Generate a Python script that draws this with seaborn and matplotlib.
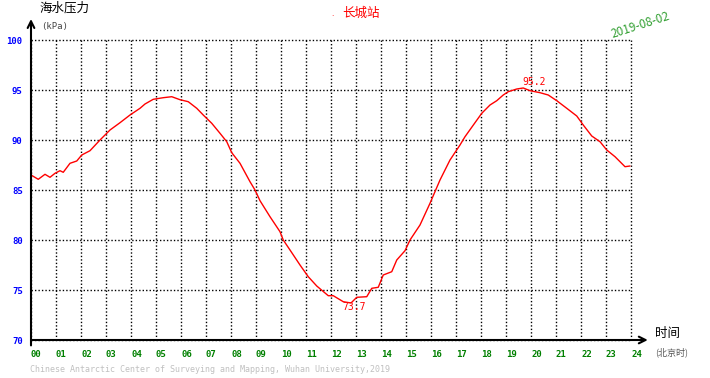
import numpy as np
import pandas as pd
import matplotlib
matplotlib.use('Agg')
import matplotlib.pyplot as plt
import seaborn as sns

# hours (Beijing time) and sea water pressure (kPa)
hours = [0, 0.29, 0.56, 0.76, 0.96, 1.16, 1.29, 1.56, 1.83, 2.03, 2.36, 2.76,
         3.16, 3.56, 3.96, 4.36, 4.56, 4.89, 5.29, 5.63, 5.96, 6.29, 6.63, 6.89,
         7.23, 7.56, 7.83, 8.03, 8.36, 8.76, 8.96, 9.16, 9.56, 9.96, 10.09,
         10.36, 10.76, 11.09, 11.43, 11.89, 12.09, 12.49, 12.8, 13.03, 13.43,
         13.63, 13.89, 14.09, 14.43, 14.63, 14.96, 15.16, 15.56, 15.96, 16.36,
         16.76, 17.16, 17.36, 17.76, 18.03, 18.36, 18.63, 18.89, 19.09, 19.43,
         19.69, 19.96, 20.36, 20.69, 21.03, 21.43, 21.83, 22.09, 22.43, 22.76,
         23.03, 23.36, 23.76, 23.96]
pressure = [86.5, 86.07, 86.57, 86.27, 86.67, 86.93, 86.77, 87.67, 87.9, 88.5,
            88.93, 90.0, 91.0, 91.73, 92.5, 93.17, 93.6, 94.07, 94.23, 94.33,
            94.03, 93.83, 93.17, 92.5, 91.67, 90.67, 89.83, 88.73, 87.67, 85.83,
            85.0, 83.93, 82.33, 80.83, 80.0, 79.0, 77.5, 76.33, 75.4, 74.43,
            74.43, 73.83, 73.7, 74.27, 74.33, 75.17, 75.27, 76.5, 76.83, 78.0,
            78.93, 80.0, 81.5, 83.67, 86.0, 88.0, 89.5, 90.33, 91.73, 92.67,
            93.5, 93.93, 94.5, 94.83, 95.1, 95.2, 94.93, 94.73, 94.5, 93.93,
            93.17, 92.4, 91.5, 90.4, 89.83, 89.0, 88.33, 87.33, 87.4]

x_ticks = list(range(0, 25))
x_labels = ['%02d' % h for h in x_ticks]
y_ticks = [70, 75, 80, 85, 90, 95, 100]

max_label = '95.2'
min_label = '73.7'
station = '长城站'
date_str = '2019-08-02'
footer = 'Chinese Antarctic Center of Surveying and Mapping, Wuhan University,2019'

df = pd.DataFrame({'hour': hours, 'kpa': pressure})

sns.set_style('white')
plt.rcParams['font.family'] = ['Noto Sans CJK SC', 'DejaVu Sans']

W, H = 710, 378
fig = plt.figure(figsize=(W / 100, H / 100), dpi=100)
ax = fig.add_axes([31 / W, (H - 340) / H, 600 / W, 300 / H])

sns.lineplot(data=df, x='hour', y='kpa', color='red', lw=1, ax=ax)

ax.set_xlim(0, 24)
ax.set_ylim(70, 100)
ax.set_xticks(x_ticks)
ax.set_xticklabels(x_labels, ha='left', color='#008000',
                   family='DejaVu Sans Mono', fontsize=6.5, fontweight='bold')
ax.set_yticks(y_ticks)
ax.set_yticklabels([str(v) for v in y_ticks], color='#0000ff',
                   family='DejaVu Sans Mono', fontsize=6.5, fontweight='bold')
ax.tick_params(axis='x', length=0, pad=7)
ax.tick_params(axis='y', length=0, pad=6)
ax.set_xlabel('')
ax.set_ylabel('')
ax.grid(True, color='black', linestyle=(0, (1, 1.5)), lw=1)
for gl in ax.get_xgridlines() + ax.get_ygridlines():
    gl.set_clip_on(False)
for s in ax.spines.values():
    s.set_visible(False)

# axes with arrows
ax.annotate('', xy=(0, 1.07), xytext=(0, -0.018), xycoords='axes fraction',
            arrowprops=dict(arrowstyle='->', lw=1.5, color='black',
                            shrinkA=0, shrinkB=0, mutation_scale=12))
ax.annotate('', xy=(1.028, 0), xytext=(0, 0), xycoords='axes fraction',
            arrowprops=dict(arrowstyle='->', lw=1.5, color='black',
                            shrinkA=0, shrinkB=0, mutation_scale=12))

# extreme labels
ax.text(19.65, 95.3, max_label, color='red', fontsize=7,
        family='DejaVu Sans Mono', ha='left', va='bottom')
ax.text(12.45, 73.75, min_label, color='red', fontsize=7,
        family='DejaVu Sans Mono', ha='left', va='top')

# surrounding texts
fig.text(40 / W, 1 - 8 / H, '海水压力', fontsize=9, color='black', va='center')
fig.text(41 / W, 1 - 27 / H, '(kPa)', fontsize=6.5, color='#444444',
         family='DejaVu Sans Mono', va='center')
fig.text(331 / W, 1 - 14 / H, '.', fontsize=6, color='red', va='center')
fig.text(342 / W, 1 - 13 / H, station, fontsize=9, color='red', va='center')
fig.text(640 / W, 1 - 25 / H, date_str, fontsize=8.5, color='#33a033',
         rotation=18, ha='center', va='center')
fig.text(655 / W, 1 - 334 / H, '时间', fontsize=9, color='black', va='center')
fig.text(655 / W, 1 - 352 / H, '(北京时)', fontsize=6.5, color='#555555',
         va='center')
fig.text(30 / W, 1 - 370 / H, footer, fontsize=6, color='#c0c0c0',
         family='DejaVu Sans Mono', va='center')

fig.savefig('out.png', dpi=100)
